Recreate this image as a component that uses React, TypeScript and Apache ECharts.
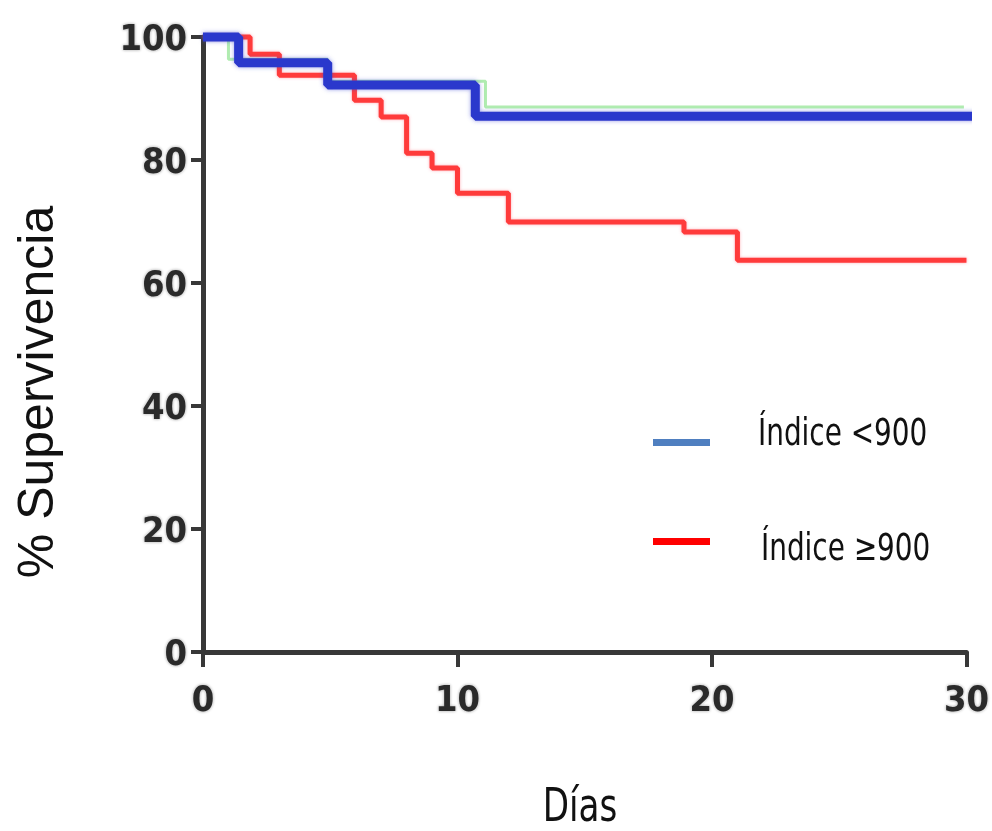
import React, { useEffect, useRef } from "react";
import * as echarts from "echarts";

// Kaplan-Meier curves (days, % survival)
const blueDays = [0, 1.4, 4.9, 10.7, 30.7];
const blueSurv = [100, 95.8, 92.2, 87.1, 87.1];

const greenDays = [0, 1.0, 4.9, 11.1, 29.9];
const greenSurv = [100, 96.4, 92.8, 88.6, 88.6];

const redDays = [0, 1.85, 3.0, 5.95, 7.0, 8.0, 9.0, 10.0, 12.0, 18.9, 21.0, 30];
const redSurv = [100, 97.2, 93.8, 89.7, 87.0, 81.1, 78.7, 74.6, 69.9, 68.3, 63.7, 63.7];

const xTicks = [0, 10, 20, 30];
const yTicks = [0, 20, 40, 60, 80, 100];

const legendNames = ["Índice <900", "Índice ≥900"];
const xTitle = "Días";
const yTitle = "% Supervivencia";

const zip = (a: number[], b: number[]) => a.map((v, i) => [v, b[i]]);

export default function App() {
  const ref = useRef<HTMLDivElement>(null);
  useEffect(() => {
    if (!ref.current) return;
    const chart = echarts.init(ref.current, undefined, { renderer: "svg" });
    const narrow = "'DejaVu Sans Condensed', 'DejaVu Sans', sans-serif";
    const axisColor = "#383838";
    const labelStyle = {
      fontFamily: narrow,
      fontWeight: "bold",
      fontSize: 36,
      color: "#2a2a2a",
      textShadowColor: "rgba(40,40,40,0.45)",
      textShadowBlur: 3,
    };
    chart.setOption({
      animation: false,
      grid: { left: 203, right: 25, top: 37, bottom: 179, containLabel: false },
      xAxis: {
        type: "value",
        min: xTicks[0],
        max: xTicks[xTicks.length - 1],
        interval: 10,
        splitLine: { show: false },
        axisLine: {
          show: true,
          lineStyle: { color: axisColor, width: 5 },
        },
        axisTick: {
          show: true,
          length: 15,
          lineStyle: { color: axisColor, width: 4 },
        },
        axisLabel: { margin: 28, ...labelStyle },
      },
      yAxis: {
        type: "value",
        min: yTicks[0],
        max: yTicks[yTicks.length - 1],
        interval: 20,
        splitLine: { show: false },
        axisLine: {
          show: true,
          lineStyle: { color: axisColor, width: 5 },
        },
        axisTick: {
          show: true,
          length: 12,
          lineStyle: { color: axisColor, width: 4 },
        },
        axisLabel: { margin: 16, ...labelStyle },
      },
      series: [
        {
          name: "green",
          type: "line",
          step: "end",
          symbol: "none",
          clip: false,
          data: zip(greenDays, greenSurv),
          lineStyle: { color: "#6fdc6f", width: 3, opacity: 0.55 },
          z: 2,
        },
        {
          name: legendNames[0],
          type: "line",
          step: "end",
          symbol: "none",
          clip: false,
          data: zip(blueDays, blueSurv),
          lineStyle: {
            color: "#2b38cc",
            width: 9,
            shadowColor: "rgba(60,70,210,0.55)",
            shadowBlur: 4,
          },
          z: 4,
        },
        {
          name: legendNames[1],
          type: "line",
          step: "end",
          symbol: "none",
          clip: false,
          data: zip(redDays, redSurv),
          lineStyle: {
            color: "#ff3a3a",
            width: 5,
            shadowColor: "rgba(255,90,110,0.5)",
            shadowBlur: 3,
          },
          z: 3,
        },
      ],
      graphic: [
        {
          type: "rect",
          shape: { x: 653, y: 439, width: 57, height: 7 },
          style: { fill: "#4f7fc0" },
        },
        {
          type: "text",
          x: 758,
          y: 432,
          scaleY: 1.2,
          style: {
            text: legendNames[0],
            font: `31px ${narrow}`,
            fill: "#111111",
            verticalAlign: "middle",
          },
        },
        {
          type: "rect",
          shape: { x: 653, y: 538, width: 57, height: 7 },
          style: { fill: "#ff0000" },
        },
        {
          type: "text",
          x: 761,
          y: 547,
          scaleY: 1.2,
          style: {
            text: legendNames[1],
            font: `31px ${narrow}`,
            fill: "#111111",
            verticalAlign: "middle",
          },
        },
        {
          type: "text",
          x: 36,
          y: 392,
          rotation: Math.PI / 2,
          style: {
            text: yTitle,
            font: "50px 'Liberation Sans', Arial, sans-serif",
            fill: "#111111",
            align: "center",
            verticalAlign: "middle",
          },
        },
        {
          type: "text",
          x: 580,
          y: 805,
          scaleY: 1.2,
          style: {
            text: xTitle,
            font: `38px ${narrow}`,
            fill: "#111111",
            align: "center",
            verticalAlign: "middle",
          },
        },
      ],
    });
    return () => chart.dispose();
  }, []);
  return (
    <div
      ref={ref}
      style={{ position: "fixed", left: 0, top: 0, width: 992, height: 831 }}
    />
  );
}
